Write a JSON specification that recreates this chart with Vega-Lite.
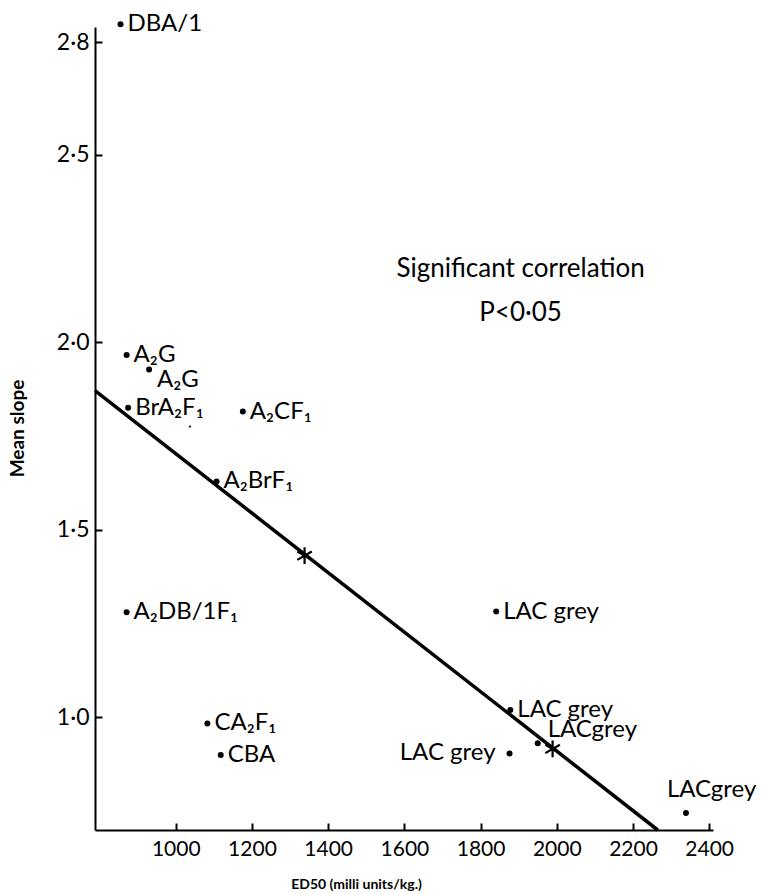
{
  "$schema": "https://vega.github.io/schema/vega-lite/v6.json",
  "width": 618,
  "height": 803,
  "autosize": "none",
  "padding": {"left": 95, "top": 27, "right": 53, "bottom": 64},
  "background": "white",
  "config": {"view": {"stroke": null}, "font": "Lato"},
  "datasets": {
    "strains": [
      {"label": "DBA/1", "ed50": 855, "slope": 2.847, "place": "right"},
      {"label": "A₂G", "ed50": 871, "slope": 1.966, "place": "right"},
      {"label": "A₂G", "ed50": 930, "slope": 1.927, "place": "lowerright"},
      {"label": "BrA₂F₁", "ed50": 875, "slope": 1.825, "place": "right"},
      {"label": "A₂CF₁", "ed50": 1176, "slope": 1.815, "place": "right"},
      {"label": "A₂BrF₁", "ed50": 1107, "slope": 1.629, "place": "right"},
      {"label": "A₂DB/1F₁", "ed50": 871, "slope": 1.28, "place": "right"},
      {"label": "CA₂F₁", "ed50": 1083, "slope": 0.984, "place": "right"},
      {"label": "CBA", "ed50": 1118, "slope": 0.9, "place": "right"},
      {"label": "LAC grey", "ed50": 1841, "slope": 1.282, "place": "right"},
      {"label": "LAC grey", "ed50": 1878, "slope": 1.02, "place": "right"},
      {"label": "LACgrey", "ed50": 1950, "slope": 0.931, "place": "upperright"},
      {"label": "LAC grey", "ed50": 1876, "slope": 0.904, "place": "left"},
      {"label": "LACgrey", "ed50": 2339, "slope": 0.745, "place": "above"}
    ],
    "speck": [{"ed50": 1037, "slope": 1.775}],
    "fit": [{"ed50": 788, "slope": 1.871}, {"ed50": 2265, "slope": 0.7}],
    "means": [{"ed50": 1338, "slope": 1.431}, {"ed50": 1989, "slope": 0.916}],
    "notes": [
      {"text": "Significant correlation", "ed50": 1905, "slope": 2.195},
      {"text": "P<0·05", "ed50": 1905, "slope": 2.079}
    ]
  },
  "encoding": {
    "x": {
      "field": "ed50",
      "type": "quantitative",
      "scale": {"domain": [788, 2410], "nice": false, "zero": false},
      "axis": {
        "title": "ED50 (milli units/kg.)",
        "values": [1000, 1200, 1400, 1600, 1800, 2000, 2200, 2400],
        "format": "d",
        "grid": false,
        "domainColor": "black",
        "domainWidth": 2,
        "tickColor": "black",
        "tickWidth": 2,
        "tickSize": -7,
        "labelFont": "Lato",
        "labelFontSize": 21,
        "labelColor": "black",
        "labelPadding": 15,
        "titleFont": "Lato",
        "titleFontSize": 14,
        "titleFontWeight": "bold",
        "titleColor": "black",
        "titleX": 261,
        "titleY": 54,
        "titleBaseline": "middle",
        "titleAlign": "center"
      }
    },
    "y": {
      "field": "slope",
      "type": "quantitative",
      "scale": {"domain": [0.7, 2.84], "nice": false, "zero": false},
      "axis": {
        "title": "Mean slope",
        "values": [1.0, 1.5, 2.0, 2.5, 2.8],
        "labelExpr": "replace(format(datum.value, '.1f'), '.', '·')",
        "grid": false,
        "domainColor": "black",
        "domainWidth": 2,
        "tickColor": "black",
        "tickWidth": 2,
        "tickSize": -7,
        "labelFont": "Lato",
        "labelFontSize": 23,
        "labelColor": "black",
        "labelPadding": 13,
        "titleFont": "Lato",
        "titleFontSize": 19,
        "titleFontWeight": "bold",
        "titleColor": "black",
        "titleX": -78,
        "titleY": 401,
        "titleBaseline": "middle",
        "titleAlign": "center"
      }
    }
  },
  "layer": [
    {
      "data": {"name": "fit"},
      "mark": {"type": "line", "color": "black", "strokeWidth": 3.5, "clip": false}
    },
    {
      "data": {"name": "strains"},
      "mark": {"type": "circle", "size": 36, "color": "black", "opacity": 1, "clip": false}
    },
    {
      "data": {"name": "speck"},
      "mark": {"type": "circle", "size": 5, "color": "black", "opacity": 1}
    },
    {
      "data": {"name": "means"},
      "mark": {
        "type": "point",
        "shape": "M0,-1L0,1M-0.87,-0.5L0.87,0.5M-0.87,0.5L0.87,-0.5",
        "filled": false,
        "stroke": "black",
        "strokeWidth": 2.2,
        "size": 280,
        "opacity": 1
      }
    },
    {
      "data": {"name": "strains"},
      "transform": [{"filter": "datum.place === 'right'"}],
      "mark": {"type": "text", "align": "left", "baseline": "middle", "dx": 7, "fontSize": 24, "font": "Lato", "color": "black", "clip": false},
      "encoding": {"text": {"field": "label"}}
    },
    {
      "data": {"name": "strains"},
      "transform": [{"filter": "datum.place === 'lowerright'"}],
      "mark": {"type": "text", "align": "left", "baseline": "middle", "dx": 8, "dy": 10, "fontSize": 24, "font": "Lato", "color": "black"},
      "encoding": {"text": {"field": "label"}}
    },
    {
      "data": {"name": "strains"},
      "transform": [{"filter": "datum.place === 'upperright'"}],
      "mark": {"type": "text", "align": "left", "baseline": "middle", "dx": 10, "dy": -13, "fontSize": 24, "font": "Lato", "color": "black"},
      "encoding": {"text": {"field": "label"}}
    },
    {
      "data": {"name": "strains"},
      "transform": [{"filter": "datum.place === 'left'"}],
      "mark": {"type": "text", "align": "right", "baseline": "middle", "dx": -14, "fontSize": 24, "font": "Lato", "color": "black"},
      "encoding": {"text": {"field": "label"}}
    },
    {
      "data": {"name": "strains"},
      "transform": [{"filter": "datum.place === 'above'"}],
      "mark": {"type": "text", "align": "left", "baseline": "middle", "dx": -19, "dy": -23, "fontSize": 24, "font": "Lato", "color": "black", "clip": false},
      "encoding": {"text": {"field": "label"}}
    },
    {
      "data": {"name": "notes"},
      "mark": {"type": "text", "align": "center", "baseline": "middle", "fontSize": 26, "font": "Lato", "color": "black"},
      "encoding": {"text": {"field": "text"}}
    }
  ]
}
